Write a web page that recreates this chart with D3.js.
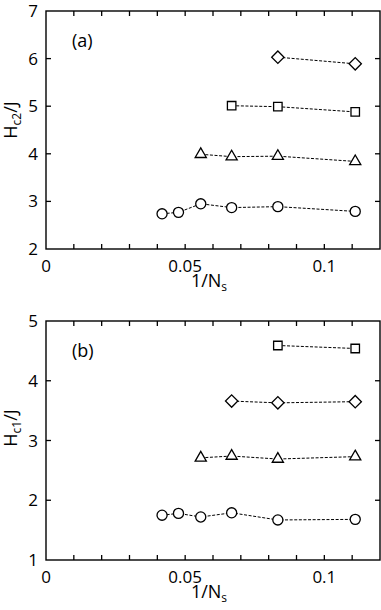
<!DOCTYPE html>
<html>
<head>
<meta charset="utf-8">
<script src="https://cdn.jsdelivr.net/npm/d3@7"></script>
<style>
  body { margin: 0; background: #fff; }
  text { font-family: "Open Sans", "DejaVu Sans", sans-serif; fill: #000; }
</style>
</head>
<body>
<svg id="chart" width="381" height="610"></svg>
<script>
// 1/Ns values (Ns = 24, 21, 18, 15, 12, 9)
const invNs = [0.0417, 0.0476, 0.0556, 0.0667, 0.0833, 0.1111];

// panel (a): Hc2/J
const circleA  = [2.74, 2.77, 2.95, 2.87, 2.89, 2.79];
const triA     = [3.99, 3.94, 3.95, 3.84];
const squareA  = [5.01, 4.99, 4.88];
const diamondA = [6.03, 5.89];

// panel (b): Hc1/J
const circleB  = [1.75, 1.78, 1.72, 1.79, 1.67, 1.68];
const triB     = [2.71, 2.74, 2.69, 2.73];
const diamondB = [3.66, 3.63, 3.65];
const squareB  = [4.59, 4.54];

const xTicks = [0, 0.05, 0.1];

const svg = d3.select("#chart");

const shapes = {
  circle: d3.symbol().type(d3.symbolCircle).size(80),
  square: d3.symbol().type(d3.symbolSquare).size(72),
  triangle: d3.symbol().type(d3.symbolTriangle).size(54),
  diamond: d3.symbol().type(d3.symbolSquare).size(76)
};

// pair each series with the last x values
function series(vals, shape) {
  const xs = invNs.slice(invNs.length - vals.length);
  return { shape: shape, pts: vals.map((v, i) => ({ x: xs[i], y: v })) };
}

function drawPanel(opt) {
  const g = svg.append("g");
  const x = d3.scaleLinear().domain([0, 0.12]).range([46, 380]);
  const y = d3.scaleLinear().domain(opt.yDomain).range([opt.bottom, opt.top]);
  const tickLen = 5;

  // minor x ticks every 0.01 (top & bottom, inward)
  const xMinor = d3.range(1, 12).map(i => i / 100);
  g.selectAll(".xt").data(xMinor).enter().append("line")
    .attr("x1", d => x(d)).attr("x2", d => x(d))
    .attr("y1", opt.bottom).attr("y2", opt.bottom - tickLen)
    .attr("stroke", "#000").attr("stroke-width", 1.3);
  g.selectAll(".xtt").data(xMinor).enter().append("line")
    .attr("x1", d => x(d)).attr("x2", d => x(d))
    .attr("y1", opt.top).attr("y2", opt.top + tickLen)
    .attr("stroke", "#000").attr("stroke-width", 1.3);

  // y ticks on both sides
  const yt = d3.range(opt.yDomain[0] + 1, opt.yDomain[1]);
  g.selectAll(".yt").data(yt).enter().append("line")
    .attr("x1", x(0)).attr("x2", x(0) + tickLen)
    .attr("y1", d => y(d)).attr("y2", d => y(d))
    .attr("stroke", "#000").attr("stroke-width", 1.3);
  g.selectAll(".ytr").data(yt).enter().append("line")
    .attr("x1", x(0.12)).attr("x2", x(0.12) - tickLen)
    .attr("y1", d => y(d)).attr("y2", d => y(d))
    .attr("stroke", "#000").attr("stroke-width", 1.3);

  // frame
  g.append("rect")
    .attr("x", x(0)).attr("y", opt.top)
    .attr("width", x(0.12) - x(0)).attr("height", opt.bottom - opt.top)
    .attr("fill", "none").attr("stroke", "#000").attr("stroke-width", 1.4);

  // tick labels
  g.selectAll(".xl").data(xTicks).enter().append("text")
    .attr("x", d => x(d)).attr("y", opt.bottom + 23)
    .attr("text-anchor", "middle").style("font-size", "17px")
    .text(d => d);
  g.selectAll(".yl").data(d3.range(opt.yDomain[0], opt.yDomain[1] + 1)).enter().append("text")
    .attr("x", 38).attr("y", d => y(d) + 6)
    .attr("text-anchor", "end").style("font-size", "17px")
    .text(d => d);

  // axis titles
  const xl = g.append("text")
    .attr("x", 209).attr("y", opt.bottom + 38)
    .attr("text-anchor", "middle").style("font-size", "18px");
  xl.append("tspan").text("1/N");
  xl.append("tspan").attr("dy", 4).style("font-size", "12px").text("s");

  const yl = g.append("text")
    .attr("transform", `translate(17,${opt.yLabelY}) rotate(-90)`)
    .attr("text-anchor", "middle").style("font-size", "18px");
  yl.append("tspan").text("H");
  yl.append("tspan").attr("dy", 4).style("font-size", "12px").text(opt.sub);
  yl.append("tspan").attr("dy", -4).text("/J");

  g.append("text")
    .attr("x", 72).attr("y", opt.top + 36)
    .style("font-size", "18px").text(opt.tag);

  // series: dashed line then markers
  const line = d3.line().x(d => x(d.x)).y(d => y(d.y));
  opt.series.forEach(s => {
    g.append("path").attr("d", line(s.pts))
      .attr("fill", "none").attr("stroke", "#000")
      .attr("stroke-width", 1).attr("stroke-dasharray", "3,1.6");
    g.selectAll(null).data(s.pts).enter().append("path")
      .attr("d", shapes[s.shape])
      .attr("transform", d => `translate(${x(d.x)},${y(d.y)})` + (s.shape === "diamond" ? " rotate(45)" : ""))
      .attr("fill", "#fff").attr("stroke", "#000").attr("stroke-width", 1.3);
  });
}

drawPanel({
  top: 11, bottom: 249, yDomain: [2, 7], sub: "c2", tag: "(a)", yLabelY: 120,
  series: [series(circleA, "circle"), series(triA, "triangle"),
           series(squareA, "square"), series(diamondA, "diamond")]
});

drawPanel({
  top: 321, bottom: 560, yDomain: [1, 5], sub: "c1", tag: "(b)", yLabelY: 428,
  series: [series(circleB, "circle"), series(triB, "triangle"),
           series(diamondB, "diamond"), series(squareB, "square")]
});
</script>
</body>
</html>
